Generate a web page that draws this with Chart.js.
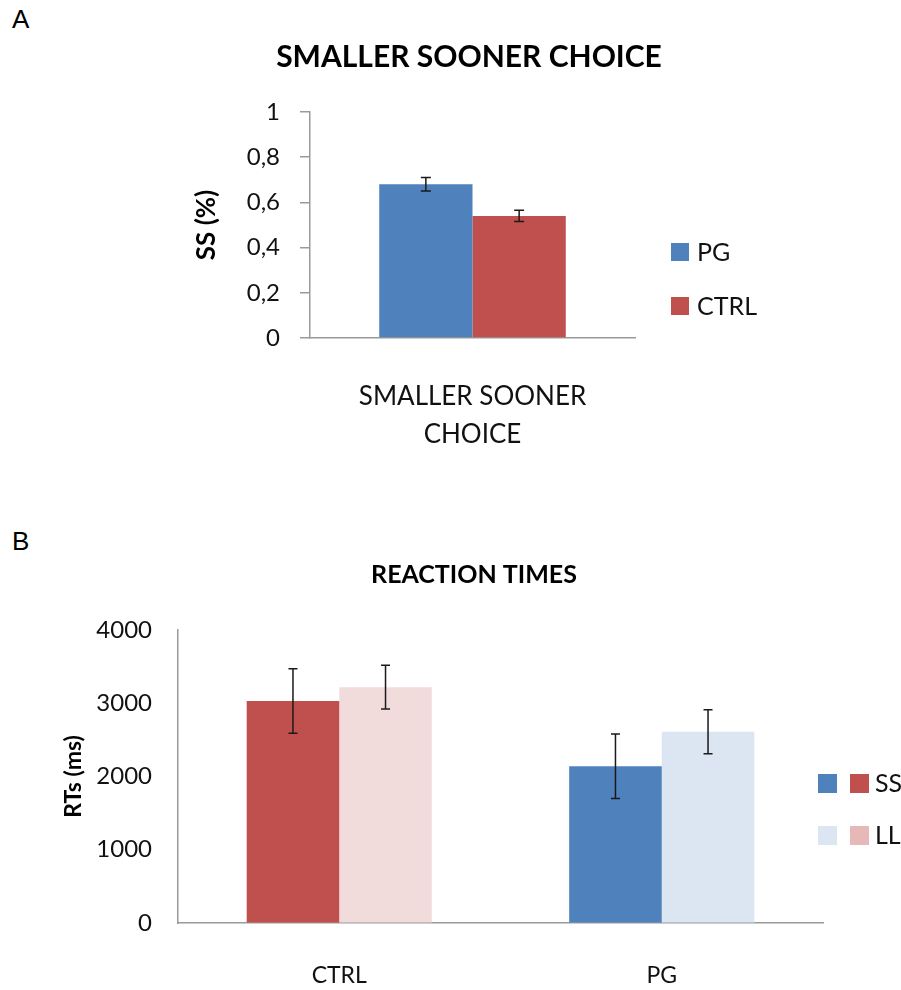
<!DOCTYPE html>
<html>
<head>
<meta charset="utf-8">
<script src="https://cdn.jsdelivr.net/npm/chart.js@4"></script>
<style>
  body { margin: 0; background: #fff; width: 901px; height: 990px; position: relative; overflow: hidden; font-family: "Liberation Sans", Arial, sans-serif; }
  .panel { position: absolute; left: 12px; font-size: 26px; color: #000; }
  #wrapA { position: absolute; left: 0; top: 0; width: 901px; height: 490px; }
  #wrapB { position: absolute; left: 0; top: 490px; width: 901px; height: 500px; }
</style>
</head>
<body>
<div class="panel" style="top:4px">A</div>
<div class="panel" style="top:526px">B</div>
<div id="wrapA"><canvas id="choiceChart" width="901" height="490"></canvas></div>
<div id="wrapB"><canvas id="rtChart" width="901" height="500"></canvas></div>
<script>
// panel A data
const choiceLabels = [["SMALLER SOONER", "CHOICE"]];
const pgChoice = [0.68];
const pgChoiceErr = [0.03];
const ctrlChoice = [0.54];
const ctrlChoiceErr = [0.025];
const choiceTicks = ["0", "0,2", "0,4", "0,6", "0,8", "1"];

// panel B data
const groupLabels = ["CTRL", "PG"];
const ssTimes = [3030, 2140];
const ssTimesErr = [440, 440];
const llTimes = [3220, 2610];
const llTimesErr = [300, 300];
const rtTicks = ["0", "1000", "2000", "3000", "4000"];

const BLUE = "#4f81bd", RED = "#c0504d", LIGHT_BLUE = "#dce6f2", LIGHT_RED = "#f2dcdb";
const FONT = "Lato";
const AXIS = "#9a9a9a";

// error bars drawn from each dataset's "errors" array
const errorBars = {
  id: "errorBars",
  afterDatasetsDraw(chart, args, opts) {
    const ctx = chart.ctx;
    const y = chart.scales.y;
    ctx.save();
    ctx.strokeStyle = "#1a1a1a";
    ctx.lineWidth = 1.5;
    chart.data.datasets.forEach((ds, i) => {
      chart.getDatasetMeta(i).data.forEach((bar, j) => {
        const v = ds.data[j], e = ds.errors[j];
        const top = y.getPixelForValue(v + e), bot = y.getPixelForValue(v - e);
        const w = opts.cap || 5;
        ctx.beginPath();
        ctx.moveTo(bar.x, top); ctx.lineTo(bar.x, bot);
        ctx.moveTo(bar.x - w, top); ctx.lineTo(bar.x + w, top);
        ctx.moveTo(bar.x - w, bot); ctx.lineTo(bar.x + w, bot);
        ctx.stroke();
      });
    });
    ctx.restore();
  }
};

function fixSize(w, h) {
  return function (scale) {
    if (w != null) scale.width = w;
    if (h != null) scale.height = h;
  };
}

// A: Smaller sooner choice
new Chart(document.getElementById("choiceChart"), {
  type: "bar",
  data: {
    labels: choiceLabels,
    datasets: [
      { label: "PG", data: pgChoice, errors: pgChoiceErr, backgroundColor: BLUE },
      { label: "CTRL", data: ctrlChoice, errors: ctrlChoiceErr, backgroundColor: RED }
    ]
  },
  options: {
    responsive: false,
    animation: false,
    layout: { padding: { left: 189, top: 112, right: 266, bottom: 0 } },
    datasets: { bar: { categoryPercentage: 0.574, barPercentage: 1 } },
    scales: {
      x: {
        afterFit: fixSize(null, 152),
        grid: { display: false },
        border: { color: AXIS, width: 1.5 },
        ticks: { color: "#111", padding: 32, font: { family: FONT, size: 26, lineHeight: 1.45 } }
      },
      y: {
        min: 0, max: 1,
        afterFit: fixSize(121, null),
        grid: { drawOnChartArea: false, drawTicks: true, tickLength: 10, color: AXIS, lineWidth: 1.5 },
        border: { color: AXIS, width: 1.5 },
        ticks: {
          stepSize: 0.2, padding: 20, color: "#111",
          font: { family: FONT, size: 24 },
          callback: (v, i) => choiceTicks[i]
        },
        title: { display: true, text: "SS (%)", color: "#000", padding: 2, font: { family: FONT, size: 26, weight: "bold" } }
      }
    },
    plugins: {
      legend: { display: false },
      tooltip: { enabled: false },
      errorBars: { cap: 5 }
    }
  },
  plugins: [errorBars, {
    id: "decorA",
    afterDraw(chart) {
      const ctx = chart.ctx;
      ctx.save();
      ctx.fillStyle = "#000";
      ctx.textAlign = "center";
      ctx.textBaseline = "middle";
      ctx.font = "bold 30px " + FONT;
      ctx.fillText("SMALLER SOONER CHOICE", 469, 57);
      ctx.textAlign = "left";
      ctx.font = "25px " + FONT;
      chart.data.datasets.forEach((ds, i) => {
        const yy = 243 + i * 54;
        ctx.fillStyle = ds.backgroundColor;
        ctx.fillRect(671, yy, 18, 18);
        ctx.fillStyle = "#111";
        ctx.fillText(ds.label, 697, yy + 10);
      });
      ctx.restore();
    }
  }]
});

// B: Reaction times
new Chart(document.getElementById("rtChart"), {
  type: "bar",
  data: {
    labels: groupLabels,
    datasets: [
      { label: "SS", data: ssTimes, errors: ssTimesErr, backgroundColor: [RED, BLUE] },
      { label: "LL", data: llTimes, errors: llTimesErr, backgroundColor: [LIGHT_RED, LIGHT_BLUE] }
    ]
  },
  options: {
    responsive: false,
    animation: false,
    layout: { padding: { left: 58, top: 140, right: 78, bottom: 0 } },
    datasets: { bar: { categoryPercentage: 0.574, barPercentage: 1 } },
    scales: {
      x: {
        afterFit: fixSize(null, 67),
        grid: { display: false },
        border: { color: AXIS, width: 1.5 },
        ticks: { color: "#111", padding: 31, font: { family: FONT, size: 23 } }
      },
      y: {
        min: 0, max: 4000,
        afterFit: fixSize(120, null),
        grid: { drawOnChartArea: false, drawTicks: false },
        border: { color: AXIS, width: 1.5 },
        ticks: {
          stepSize: 1000, padding: 26, color: "#111",
          font: { family: FONT, size: 24 },
          callback: (v, i) => rtTicks[i]
        },
        title: { display: true, text: "RTs (ms)", color: "#000", padding: 2, font: { family: FONT, size: 23, weight: "bold" } }
      }
    },
    plugins: {
      legend: { display: false },
      tooltip: { enabled: false },
      errorBars: { cap: 4.5 }
    }
  },
  plugins: [errorBars, {
    id: "decorB",
    afterDraw(chart) {
      const ctx = chart.ctx;
      ctx.save();
      ctx.fillStyle = "#000";
      ctx.textAlign = "center";
      ctx.textBaseline = "middle";
      ctx.font = "bold 25px " + FONT;
      ctx.fillText("REACTION TIMES", 474, 85);
      ctx.textAlign = "left";
      ctx.font = "25px " + FONT;
      const swatches = [[BLUE, RED], [LIGHT_BLUE, "#e6b9b8"]];
      chart.data.datasets.forEach((ds, i) => {
        const yy = 284 + i * 52;
        ctx.fillStyle = swatches[i][0];
        ctx.fillRect(818, yy, 19, 19);
        ctx.fillStyle = swatches[i][1];
        ctx.fillRect(850, yy, 19, 19);
        ctx.fillStyle = "#111";
        ctx.fillText(ds.label, 875, yy + 10);
      });
      ctx.restore();
    }
  }]
});
</script>
</body>
</html>
